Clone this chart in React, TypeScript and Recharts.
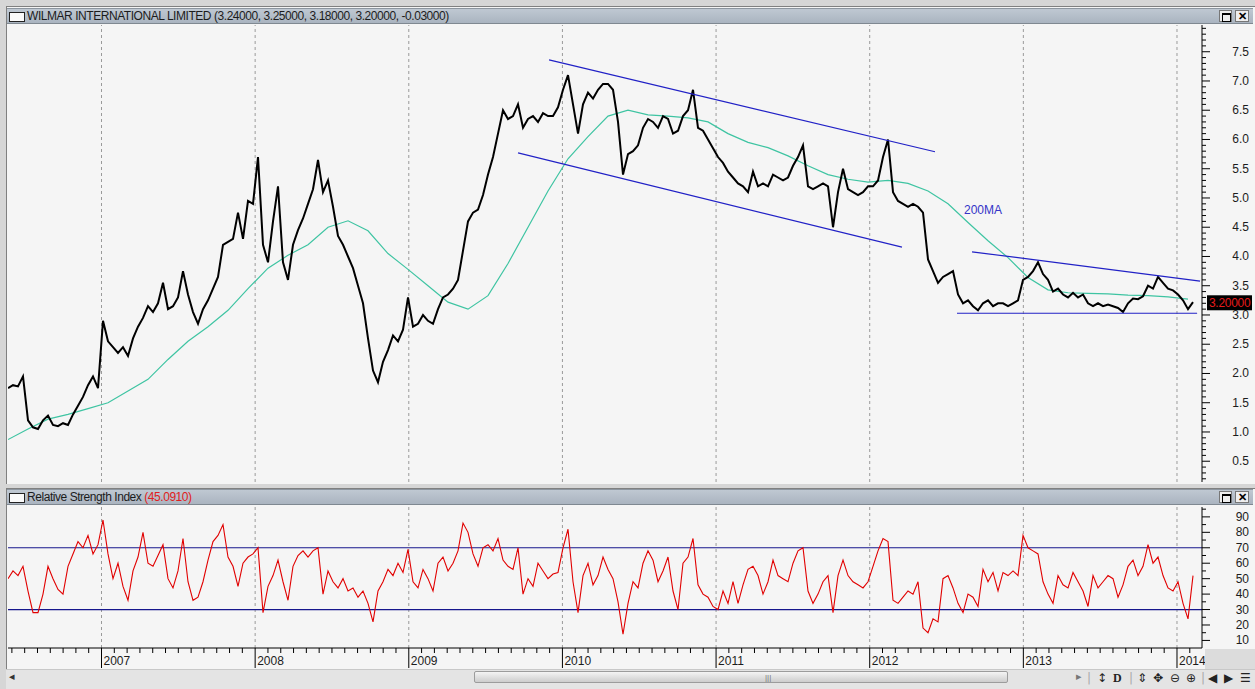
import React from "react";
import { LineChart, Line, XAxis, YAxis, ReferenceLine, ReferenceDot } from "recharts";

// samples are ~12 days apart, starting mid-May 2006
const START_YEAR = 2006.3914;
const STEP_YEARS = 0.032544;
const MA_EVERY = 4; // the 200MA is read every 4th sample
const X_MIN = 2006.3914;
const X_MAX = 2014.1628;

const YEARS = [2007, 2008, 2009, 2010, 2011, 2012, 2013, 2014];
const YEAR_LABELS = ["2007", "2008", "2009", "2010", "2011", "2012", "2013", "2014"];
const PRICE_LABELS = ["0.5", "1.0", "1.5", "2.0", "2.5", "3.0", "3.5", "4.0", "4.5", "5.0", "5.5", "6.0", "6.5", "7.0", "7.5"];
const RSI_LABELS = ["10", "20", "30", "40", "50", "60", "70", "80", "90"];

const TITLE = "WILMAR INTERNATIONAL LIMITED";
const LAST_BAR = [3.24, 3.25, 3.18, 3.2, -0.03];
const LAST_CLOSE = 3.2;
const RSI_LAST = 45.091;
const RSI_BANDS = [70, 30];

const PRICE = [
  1.75, 1.8, 1.78, 1.95, 1.2, 1.08, 1.05, 1.2, 1.28, 1.12,
  1.1, 1.15, 1.12, 1.3, 1.45, 1.6, 1.8, 1.95, 1.75, 2.9,
  2.55, 2.45, 2.35, 2.45, 2.3, 2.6, 2.8, 2.95, 3.15, 3.05,
  3.2, 3.55, 3.1, 3.15, 3.3, 3.75, 3.35, 3.05, 2.85, 3.1,
  3.25, 3.45, 3.65, 4.2, 4.25, 4.3, 4.75, 4.3, 4.95, 4.9,
  5.7, 4.2, 3.9, 4.6, 5.2, 3.9, 3.6, 4.2, 4.45, 4.65,
  4.9, 5.15, 5.65, 5.1, 5.3, 4.85, 4.35, 4.2, 4.0, 3.8,
  3.5, 3.2, 2.6, 2.05, 1.85, 2.2, 2.4, 2.65, 2.55, 2.75,
  3.3, 2.8, 2.85, 3.0, 2.9, 2.85, 3.1, 3.3, 3.35, 3.45,
  3.6, 4.1, 4.6, 4.75, 4.8, 5.05, 5.4, 5.7, 6.1, 6.5,
  6.35, 6.4, 6.6, 6.2, 6.35, 6.4, 6.3, 6.45, 6.4, 6.4,
  6.55, 6.85, 7.1, 6.6, 6.1, 6.6, 6.8, 6.7, 6.85, 6.95,
  6.95, 6.85, 6.3, 5.4, 5.75, 5.8, 5.9, 6.2, 6.35, 6.3,
  6.2, 6.4, 6.35, 6.1, 6.15, 6.4, 6.5, 6.85, 6.2, 6.15,
  6.0, 5.85, 5.7, 5.6, 5.45, 5.35, 5.25, 5.2, 5.1, 5.45,
  5.2, 5.25, 5.2, 5.4, 5.35, 5.3, 5.35, 5.55, 5.7, 5.9,
  5.2, 5.15, 5.2, 5.25, 5.2, 4.5, 5.1, 5.5, 5.15, 5.1,
  5.05, 5.1, 5.2, 5.2, 5.3, 5.7, 6.0, 5.1, 4.95, 4.9,
  4.85, 4.9, 4.85, 4.75, 3.95, 3.75, 3.55, 3.65, 3.7, 3.75,
  3.35, 3.2, 3.25, 3.15, 3.08, 3.2, 3.25, 3.15, 3.2, 3.2,
  3.15, 3.2, 3.25, 3.6, 3.65, 3.75, 3.9, 3.7, 3.6, 3.4,
  3.45, 3.35, 3.3, 3.38, 3.3, 3.35, 3.2, 3.15, 3.2, 3.15,
  3.18, 3.15, 3.12, 3.05, 3.2, 3.28, 3.27, 3.32, 3.5, 3.45,
  3.65, 3.55, 3.45, 3.42, 3.35, 3.25, 3.1, 3.22,
];

const MA200 = [
  0.87, 1.05, 1.22, 1.3, 1.4, 1.5, 1.7, 1.9, 2.24, 2.55,
  2.8, 3.08, 3.45, 3.8, 4.02, 4.2, 4.5, 4.61, 4.44, 4.05,
  3.78, 3.5, 3.22, 3.1, 3.33, 3.88, 4.5, 5.12, 5.67, 6.05,
  6.4, 6.5, 6.42, 6.4, 6.37, 6.3, 6.1, 5.95, 5.86, 5.72,
  5.55, 5.4, 5.32, 5.27, 5.3, 5.25, 5.12, 4.9, 4.58, 4.27,
  3.98, 3.64, 3.43, 3.38, 3.37, 3.36, 3.34, 3.33, 3.31, 3.27,
];

const RSI = [
  50, 55, 52, 58, 42, 28, 28, 40, 58, 50,
  43, 40, 58, 66, 74, 70, 78, 66, 72, 88,
  66, 50, 60, 45, 36, 55, 64, 80, 60, 58,
  65, 72, 50, 44, 55, 76, 48, 36, 38, 48,
  62, 74, 78, 85, 64, 58, 45, 60, 64, 66,
  70, 28, 45, 52, 62, 48, 36, 58, 65, 68,
  64, 68, 70, 40, 55, 48, 44, 50, 42, 44,
  38, 42, 34, 22, 42, 48, 56, 52, 60, 54,
  69, 48, 44, 56, 50, 42, 60, 64, 55, 60,
  68, 86, 80, 66, 58, 70, 72, 68, 76, 62,
  58, 56, 70, 40, 50, 45, 60, 55, 50, 53,
  54, 70, 82, 48, 28, 52, 60, 46, 52, 64,
  56, 50, 35, 14, 34, 48, 44, 60, 68, 62,
  48, 55, 64, 42, 30, 60, 64, 76, 46, 40,
  38, 32, 30, 42, 34, 48, 34, 46, 56, 58,
  52, 40, 48, 62, 52, 50, 48, 60, 68, 70,
  42, 34, 40, 48, 52, 28, 52, 62, 52, 48,
  46, 44, 48, 58, 68, 76, 74, 36, 34, 38,
  42, 40, 48, 18, 15, 24, 22, 50, 52, 44,
  34, 28, 40, 38, 32, 56, 48, 54, 42, 54,
  52, 55, 52, 78, 70, 68, 66, 48, 40, 34,
  52, 46, 44, 54, 48, 42, 32, 52, 44, 48,
  52, 50, 38, 46, 58, 62, 52, 58, 72, 60,
  64, 52, 44, 42, 48, 34, 24, 52,
];

// hand-drawn trend lines: [year1, price1, year2, price2]
const TREND_LINES = [
  [2009.913, 7.36, 2012.425, 5.79],
  [2009.711, 5.77, 2012.21, 4.16],
  [2012.666, 4.08, 2014.15, 3.58],
  [2012.568, 3.03, 2014.131, 3.03],
];
const MA_NOTE = { t: 2012.607, v: 4.8, text: "200MA" };

const rows = PRICE.map((p, i) => ({
  t: START_YEAR + i * STEP_YEARS,
  price: p,
  rsi: RSI[i],
  ma: i % MA_EVERY === 0 ? MA200[i / MA_EVERY] ?? null : null,
}));

const priceTicks: number[] = [];
for (let k = 2; k <= 79; k++) priceTicks.push(k / 10);
const rsiTicks: number[] = [];
for (let k = 2; k <= 19; k++) rsiTicks.push(k * 5);
const monthTicks: number[] = [];
for (let yr = 2006; yr <= 2014; yr++)
  for (let m = 0; m < 12; m++) {
    const t = yr + m / 12;
    if (t > X_MIN && t < X_MAX) monthTicks.push(t);
  }

const FONT = '"Liberation Sans", Arial, sans-serif';
const TXT = "#1c1c1c";

const PriceTick = (props: any) => {
  const { x, y, payload } = props;
  const label = PRICE_LABELS.find((l) => Math.abs(Number(l) - payload.value) < 1e-6);
  return (
    <g>
      <line x1={x} y1={y} x2={x + (label ? 8 : 4)} y2={y} stroke="#000" />
      {label && (
        <text x={x + 47} y={y + 4} textAnchor="end" fontSize={12} fontFamily={FONT} fill={TXT}>{label}</text>
      )}
    </g>
  );
};

const RsiTick = (props: any) => {
  const { x, y, payload } = props;
  const label = RSI_LABELS.find((l) => Number(l) === payload.value);
  return (
    <g>
      <line x1={x} y1={y} x2={x + (label ? 8 : 4)} y2={y} stroke="#000" />
      {label && (
        <text x={x + 47} y={y + 4} textAnchor="end" fontSize={12} fontFamily={FONT} fill={TXT}>{label}</text>
      )}
    </g>
  );
};

const MonthTick = (props: any) => {
  const { x, y, payload } = props;
  const idx = YEARS.findIndex((yr) => Math.abs(yr - payload.value) < 1e-9);
  if (idx >= 0)
    return (
      <g>
        <line x1={x} y1={y} x2={x} y2={y + 20} stroke="#000" />
        <text x={x + 2} y={y + 17} fontSize={12} fontFamily={FONT} fill={TXT}>{YEAR_LABELS[idx]}</text>
      </g>
    );
  return <line x1={x} y1={y} x2={x} y2={y + 5} stroke="#000" />;
};

function TitleBar({ top, children }: { top: number; children: React.ReactNode }) {
  return (
    <div style={{ position: "absolute", left: 7, top, width: 1246, height: 16, background: "linear-gradient(#bfc8d2, #aab4c0)", borderTop: "1px solid #8d96a0", borderBottom: "1px solid #7f8891", boxSizing: "border-box" }}>
      <div style={{ position: "absolute", left: 2, top: 3, width: 14, height: 8, background: "#fafafa", border: "1px solid #222" }} />
      <div style={{ position: "absolute", left: 20, top: 0, fontFamily: FONT, fontSize: 12, lineHeight: "14px", letterSpacing: -0.45, color: TXT, whiteSpace: "nowrap" }}>{children}</div>
      <div style={{ position: "absolute", left: 1212, top: 1, width: 13, height: 12, background: "#eee", border: "1px solid #777", boxSizing: "border-box" }}>
        <div style={{ position: "absolute", left: 2, top: 2, width: 7, height: 6, border: "1px solid #000", borderTopWidth: 2 }} />
      </div>
      <div style={{ position: "absolute", left: 1228, top: 1, width: 14, height: 12, background: "#eee", border: "1px solid #777", boxSizing: "border-box", fontFamily: FONT, fontSize: 11, lineHeight: "10px", textAlign: "center", fontWeight: 700 }}>✕</div>
    </div>
  );
}

export default function App() {
  return (
    <div style={{ position: "absolute", left: 0, top: 0, width: 1255, height: 689, background: "#d6d6d6", overflow: "hidden" }}>
      {/* price panel */}
      <div style={{ position: "absolute", left: 6, top: 6, width: 1249, height: 477, background: "#f5f5f5", borderLeft: "1px solid #808080", borderTop: "1px solid #808080" }} />
      <TitleBar top={8}>
        {TITLE} ({LAST_BAR.map((v) => v.toFixed(5)).join(", ")})
      </TitleBar>
      <div style={{ position: "absolute", left: 8, top: 25 }}>
        <LineChart width={1245} height={457} data={rows} margin={{ top: 0, right: 0, bottom: 0, left: 0 }}>
          <XAxis dataKey="t" type="number" domain={[X_MIN, X_MAX]} hide allowDataOverflow />
          <YAxis orientation="right" width={51} domain={[0.145, 7.957]} ticks={priceTicks} interval={0} tick={PriceTick} tickSize={0} tickMargin={0} tickLine={false} axisLine={{ stroke: "#000" }} allowDataOverflow />
          {YEARS.map((yr) => (
            <ReferenceLine key={yr} x={yr} stroke="#9a9a9a" strokeDasharray="3 3" />
          ))}
          <Line dataKey="ma" stroke="#3ec4a2" strokeWidth={1.2} dot={false} connectNulls isAnimationActive={false} />
          <Line dataKey="price" stroke="#000" strokeWidth={2} strokeLinejoin="miter" dot={false} isAnimationActive={false} />
          {TREND_LINES.map((s, i) => (
            <ReferenceLine key={i} segment={[{ x: s[0], y: s[1] }, { x: s[2], y: s[3] }]} stroke="#2121c6" strokeWidth={1.2} ifOverflow="visible" />
          ))}
          <ReferenceDot x={MA_NOTE.t} y={MA_NOTE.v} r={1} fill="none" stroke="none"
            label={{ value: MA_NOTE.text, position: "right", offset: 0, fill: "#3434c8", fontSize: 12, fontFamily: FONT }} />
          <ReferenceDot x={X_MAX} y={LAST_CLOSE} ifOverflow="visible"
            shape={(p: any) => (
              <g>
                <rect x={p.cx + 5} y={p.cy - 8} width={45} height={15} fill="#000" />
                <text x={p.cx + 7} y={p.cy + 4} fill="#e41b1b" fontSize={12} fontFamily={FONT} letterSpacing={-0.3}>{LAST_CLOSE.toFixed(5)}</text>
              </g>
            )} />
        </LineChart>
      </div>

      {/* RSI panel */}
      <div style={{ position: "absolute", left: 6, top: 488, width: 1249, height: 182, background: "#f5f5f5", borderLeft: "1px solid #808080", borderTop: "1px solid #808080" }} />
      <TitleBar top={489}>
        Relative Strength Index <span style={{ color: "#e02020" }}>({RSI_LAST.toFixed(4)})</span>
      </TitleBar>
      <div style={{ position: "absolute", left: 8, top: 507 }}>
        <LineChart width={1245} height={163} data={rows} margin={{ top: 0, right: 0, bottom: 0, left: 0 }}>
          <XAxis dataKey="t" type="number" domain={[X_MIN, X_MAX]} ticks={monthTicks} interval={0} tick={MonthTick} tickSize={0} tickMargin={0} tickLine={false} height={22} axisLine={{ stroke: "#000" }} allowDataOverflow />
          <YAxis orientation="right" width={51} domain={[5.1, 96.4]} ticks={rsiTicks} interval={0} tick={RsiTick} tickSize={0} tickMargin={0} tickLine={false} axisLine={{ stroke: "#000" }} allowDataOverflow />
          {YEARS.map((yr) => (
            <ReferenceLine key={yr} x={yr} stroke="#9a9a9a" strokeDasharray="3 3" />
          ))}
          {RSI_BANDS.map((b) => (
            <ReferenceLine key={b} y={b} stroke="#16168c" strokeWidth={1.2} />
          ))}
          <Line dataKey="rsi" stroke="#e10000" strokeWidth={1.1} dot={false} isAnimationActive={false} />
        </LineChart>
      </div>
      <div style={{ position: "absolute", left: 1205, top: 649, width: 50, height: 20, background: "#dcdcdc" }} />

      {/* scroll bar and toolbar */}
      <div style={{ position: "absolute", left: 6, top: 669, width: 1249, height: 20, background: "#e4e4e4", borderTop: "1px solid #c8c8c8" }} />
      <div style={{ position: "absolute", left: 9, top: 670, fontFamily: "DejaVu Sans", fontSize: 11, color: "#333" }}>◂</div>
      <div style={{ position: "absolute", left: 474, top: 671, width: 534, height: 12, background: "linear-gradient(#f4f4f4, #cdcdcd)", border: "1px solid #9c9c9c", borderRadius: 2, boxSizing: "border-box" }}>
        <div style={{ position: "absolute", left: 290, top: 1, fontFamily: FONT, fontSize: 8, color: "#777", letterSpacing: 0 }}>|||</div>
      </div>
      <div style={{ position: "absolute", left: 1076, top: 670, fontFamily: "DejaVu Sans", fontSize: 11, color: "#777", whiteSpace: "nowrap" }}>▸</div>
      <div style={{ position: "absolute", left: 1087, top: 669, fontFamily: "DejaVu Sans", fontSize: 12, color: "#222", whiteSpace: "nowrap", lineHeight: "18px" }}>
        <span style={{ color: "#aaa" }}>|</span>
        <span style={{ position: "absolute", left: 10 }}>↕</span>
        <span style={{ position: "absolute", left: 26, fontFamily: "Liberation Serif", fontWeight: 700 }}>D</span>
        <span style={{ position: "absolute", left: 42, color: "#aaa" }}>|</span>
        <span style={{ position: "absolute", left: 50 }}>⇕</span>
        <span style={{ position: "absolute", left: 66 }}>✥</span>
        <span style={{ position: "absolute", left: 83 }}>⊖</span>
        <span style={{ position: "absolute", left: 99 }}>⊕</span>
        <span style={{ position: "absolute", left: 114, color: "#aaa" }}>|</span>
        <span style={{ position: "absolute", left: 121 }}>◀</span>
        <span style={{ position: "absolute", left: 137 }}>▶</span>
        <span style={{ position: "absolute", left: 153 }}>☰</span>
      </div>
    </div>
  );
}
